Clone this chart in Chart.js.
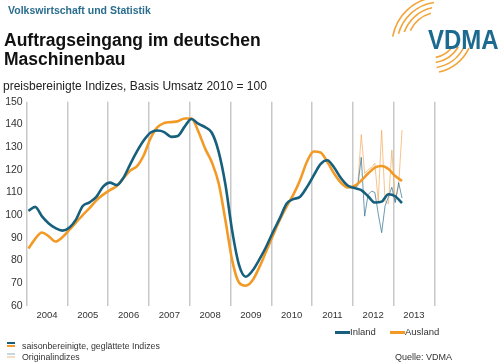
<!DOCTYPE html>
<html><head><meta charset="utf-8">
<script src="https://cdn.jsdelivr.net/npm/chart.js@4.4.0/dist/chart.umd.min.js"></script>
<style>
html,body{margin:0;padding:0;background:#fff;}
#wrap{position:relative;width:500px;height:363px;overflow:hidden;font-family:Arial,"Liberation Sans",sans-serif;}
#c{position:absolute;left:0;top:0;width:500px;height:363px;}
#logo{position:absolute;left:380px;top:0;width:120px;height:80px;}
.t{position:absolute;white-space:nowrap;line-height:1;}
.ln{display:inline-block;vertical-align:middle;}
</style></head><body>
<div id="wrap">
<canvas id="c" width="500" height="363"></canvas>
<canvas id="logo" width="120" height="80"></canvas>
<div class="t" style="left:8px;top:4.5px;font-size:10.5px;font-weight:bold;color:#2a6d8e">Volkswirtschaft und Statistik</div>
<div class="t" style="left:4px;top:30.5px;font-size:17.5px;font-weight:bold;color:#111;line-height:19.5px">Auftragseingang im deutschen<br>Maschinenbau</div>
<div class="t" style="left:3px;top:79.5px;font-size:12px;color:#222">preisbereinigte Indizes, Basis Umsatz 2010 = 100</div>
<div class="t" style="left:428px;top:26px;font-size:24px;font-weight:bold;color:#1d6a90;transform:scaleY(1.15);transform-origin:0 0">VDMA</div>
<div class="t" id="lgA" style="left:335px;top:327px;font-size:9.5px;color:#333"></div>
<div class="t" style="left:7px;top:341.5px;font-size:8.8px;color:#333">
  <span style="position:absolute;left:0;top:0.5px;width:8px;height:2px;background:#17607d"></span>
  <span style="position:absolute;left:0;top:3.5px;width:8px;height:2px;background:#f39a26"></span>
  <span style="margin-left:15px">saisonbereinigte, geglättete Indizes</span></div>
<div class="t" style="left:7px;top:352.5px;font-size:8.8px;color:#333">
  <span style="position:absolute;left:0;top:0.5px;width:8px;height:2px;background:#c8d6dd"></span>
  <span style="position:absolute;left:0;top:3.5px;width:8px;height:2px;background:#f6dcc0"></span>
  <span style="margin-left:15px">Originalindizes</span></div>
<div class="t" style="left:395px;top:353px;font-size:9px;color:#333">Quelle: VDMA</div>
</div>
<script>
// ---- data ----
const years = ['2004','2005','2006','2007','2008','2009','2010','2011','2012','2013'];
const seriesNames = ['Inland','Ausland'];
// smoothed, seasonally adjusted indices: every 2nd month starting Jan 2004
const smoothStartMonth = 0;
const smoothStep = 2;
const inlandSmooth = [101.8,103.6,99.4,96.3,94.2,93.1,94.4,98.0,104.0,105.6,108.0,112.5,114.3,113.2,116.5,122.5,128.2,133.0,136.4,137.3,136.6,134.5,134.9,139.0,142.4,140.3,138.8,136.3,128.0,113.5,93.0,78.0,72.8,75.5,80.4,86.0,92.5,98.5,105.0,107.0,108.1,112.3,117.5,122.5,124.2,121.0,116.3,113.0,111.9,111.0,108.3,105.5,105.9,109.2,108.3,105.3];
const auslandSmooth = [85.2,89.5,92.3,90.6,88.3,90.2,93.4,96.7,100.0,103.0,106.5,109.0,111.0,112.8,116.3,119.6,121.6,126.5,134.0,138.8,140.6,141.0,141.4,142.6,142.6,137.0,129.4,123.3,114.1,97.7,80.0,70.2,68.8,71.2,77.0,84.0,91.0,97.8,103.7,109.0,115.5,123.5,128.0,127.6,123.5,118.3,114.3,112.2,112.8,115.2,118.3,120.9,121.6,120.3,117.2,115.0];
// original indices: monthly, Jan 2012 - Mar 2013
const origStartMonth = 96;
const inlandOrig = [112.0,113.0,125.5,99.5,109.0,110.5,110.0,100.5,92.2,104.0,108.0,112.3,105.5,114.3,107.5];
const auslandOrig = [112.5,114.0,135.5,118.4,120.0,121.0,122.8,106.0,137.5,106.0,105.0,128.7,106.0,113.0,137.5];
const yMin = 60, yMax = 150, yStep = 10;

// ---- build ----
const toPts = (arr, start, step) => arr.map((v, i) => ({x: start + i * step + 0.5, y: v}));
const teal = '#17607d', orange = '#f39a26';
const fam = 'Arial, "Liberation Sans", sans-serif';

new Chart(document.getElementById('c'), {
  type: 'line',
  data: {
    labels: years,
    datasets: [
      {label: seriesNames[0], data: toPts(inlandSmooth, smoothStartMonth, smoothStep), xAxisID: 'xm', borderColor: teal, borderWidth: 2.6, cubicInterpolationMode: 'monotone', pointRadius: 0},
      {label: seriesNames[1], data: toPts(auslandSmooth, smoothStartMonth, smoothStep), xAxisID: 'xm', borderColor: orange, borderWidth: 2.6, cubicInterpolationMode: 'monotone', pointRadius: 0},
      {label: seriesNames[0] + ' Original', data: toPts(inlandOrig, origStartMonth, 1), xAxisID: 'xm', borderColor: 'rgba(60,120,150,0.75)', borderWidth: 1, tension: 0, pointRadius: 0},
      {label: seriesNames[1] + ' Original', data: toPts(auslandOrig, origStartMonth, 1), xAxisID: 'xm', borderColor: 'rgba(243,170,90,0.7)', borderWidth: 1, tension: 0, pointRadius: 0}
    ]
  },
  options: {
    responsive: false, animation: false, devicePixelRatio: 1,
    layout: {padding: {top: 101.7, left: 0, right: 65.7, bottom: 37.3}},
    plugins: {legend: {display: false}, tooltip: {enabled: false}},
    scales: {
      x: {type: 'category', labels: years, offset: true, position: 'bottom',
        grid: {offset: true, color: '#c8c8c8', lineWidth: 1.5, drawTicks: false},
        border: {display: false},
        ticks: {font: {size: 9.5, family: fam}, color: '#333', padding: 4, maxRotation: 0, autoSkip: false},
        afterFit(s) { s.height = 20; }},
      xm: {type: 'linear', display: false, min: 0, max: 120, position: 'bottom'},
      y: {min: yMin, max: yMax,
        ticks: {stepSize: yStep, font: {size: 10.5, family: fam}, color: '#333', padding: 4},
        grid: {display: false, drawTicks: false}, border: {display: false},
        afterFit(s) { s.width = 26.7; }}
    }
  }
});

// legend for the two series
const lg = document.getElementById('lgA');
const cols = [teal, orange];
seriesNames.forEach((n, i) => {
  const s = document.createElement('span');
  s.style.position = 'absolute';
  s.style.left = (i * 55) + 'px';
  s.style.top = '0px';
  s.innerHTML = '<span class="ln" style="width:15px;height:2.5px;background:' + cols[i] + '"></span>' + n;
  lg.appendChild(s);
});

// logo arcs
const lc = document.getElementById('logo').getContext('2d');
lc.strokeStyle = '#f2a53a'; lc.lineWidth = 1.6;
const ox = 380;
const d2r = Math.PI / 180;
[[48,190,265],[43,195,262],[38,200,258],[33,206,254]].forEach(a => {
  lc.beginPath(); lc.arc(440 - ox, 45, a[0], a[1]*d2r, a[2]*d2r); lc.stroke();
});
[[43,25,78],[38,27,80],[33,31,80],[28,36,78]].forEach(a => {
  lc.beginPath(); lc.arc(430 - ox, 30, a[0], a[1]*d2r, a[2]*d2r); lc.stroke();
});
</script>
</body></html>
